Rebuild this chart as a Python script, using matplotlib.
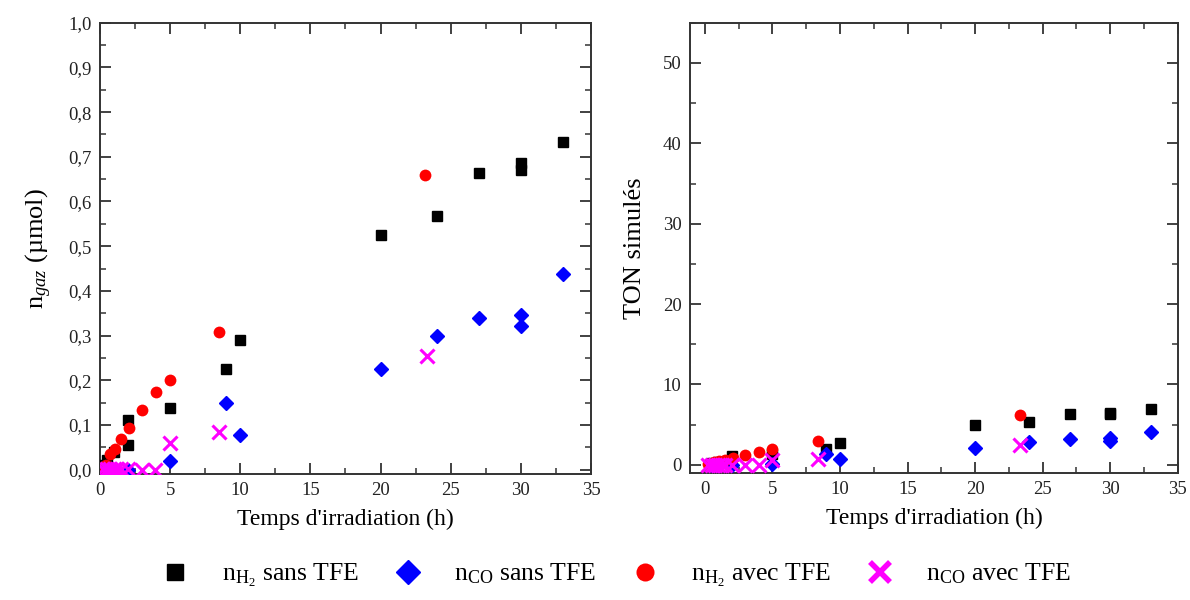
import numpy as np
import matplotlib
matplotlib.use('Agg')
import matplotlib.pyplot as plt
from matplotlib.ticker import MultipleLocator, FuncFormatter
from matplotlib.lines import Line2D

plt.rcParams['font.family'] = ['Liberation Serif', 'DejaVu Serif']
plt.rcParams['mathtext.fontset'] = 'custom'
plt.rcParams['mathtext.rm'] = 'Liberation Serif'
plt.rcParams['mathtext.it'] = 'Liberation Serif:italic'

# ─── Left panel: n_gaz (µmol) ────────────────────
h2_sans_t = [0.25, 0.5, 1.0, 2.0, 2.0, 5.0, 9.0, 10.0, 20.0, 24.0, 27.0, 30.0, 30.0, 33.0]
h2_sans_n = [0.010, 0.022, 0.039, 0.056, 0.110, 0.137, 0.225, 0.290, 0.526, 0.567, 0.663, 0.687, 0.671, 0.734]

co_sans_t = [0.5, 1.0, 2.0, 5.0, 9.0, 10.0, 20.0, 24.0, 27.0, 30.0, 30.0, 33.0]
co_sans_n = [0.0, 0.0, 0.0, 0.019, 0.149, 0.077, 0.224, 0.300, 0.339, 0.347, 0.321, 0.438]

h2_avec_t = [0.25, 0.45, 0.7, 1.05, 1.5, 2.05, 3.0, 4.0, 5.0, 8.5, 23.2]
h2_avec_n = [0.005, 0.011, 0.034, 0.046, 0.069, 0.094, 0.133, 0.174, 0.200, 0.307, 0.660]

co_avec_t = [0.25, 0.5, 0.75, 1.0, 1.25, 1.5, 2.0, 3.0, 3.9, 5.0, 8.5, 23.3]
co_avec_n = [0.002, 0.002, 0.002, 0.002, 0.002, 0.002, 0.002, 0.0, 0.0, 0.060, 0.083, 0.255]

# ─── Right panel: TON simulés ─────────────────────
ton_h2_sans_t = [0.5, 1.0, 2.0, 5.0, 9.0, 10.0, 20.0, 24.0, 27.0, 30.0, 30.0, 33.0]
ton_h2_sans   = [0.2, 0.4, 1.1, 1.3, 2.0, 2.7, 5.0, 5.3, 6.3, 6.5, 6.3, 7.0]

ton_co_sans_t = [0.5, 1.0, 2.0, 5.0, 9.0, 10.0, 20.0, 24.0, 27.0, 30.0, 30.0, 33.0]
ton_co_sans   = [0.0, 0.0, 0.0, 0.1, 1.4, 0.7, 2.1, 2.8, 3.2, 3.3, 3.0, 4.1]

ton_h2_avec_t = [0.25, 0.45, 0.7, 1.05, 1.5, 2.05, 3.0, 4.0, 5.0, 8.4, 23.3]
ton_h2_avec   = [0.1, 0.15, 0.3, 0.45, 0.65, 0.9, 1.25, 1.65, 1.9, 2.9, 6.25]

ton_co_avec_t = [0.25, 0.5, 0.75, 1.0, 1.25, 1.5, 2.0, 3.0, 4.0, 5.0, 8.4, 23.3]
ton_co_avec   = [0.0, 0.0, 0.0, 0.0, 0.0, 0.0, 0.0, 0.0, 0.0, 0.6, 0.75, 2.4]

LABELS = [r'n$_{\mathrm{H}_2}$ sans TFE', r'n$_{\mathrm{CO}}$ sans TFE',
          r'n$_{\mathrm{H}_2}$ avec TFE', r'n$_{\mathrm{CO}}$ avec TFE']

SPINE = '#333333'

def style(ax):
    for s in ax.spines.values():
        s.set_linewidth(1.4)
        s.set_color(SPINE)
    ax.tick_params(which='both', direction='in', top=True, right=True,
                   colors=SPINE, labelcolor='#222222', labelsize=13.5)
    ax.tick_params(which='major', length=8, width=1.3, pad=6)
    ax.tick_params(which='minor', length=4.5, width=1.1)
    ax.xaxis.set_major_locator(MultipleLocator(5))
    ax.xaxis.set_minor_locator(MultipleLocator(2.5))

def draw(ax, series):
    (t1, y1), (t2, y2), (t3, y3), (t4, y4) = series
    ax.plot(t1, y1, ls='none', marker='s', ms=7.5, color='black', zorder=3)
    ax.plot(t2, y2, ls='none', marker='D', ms=7.5, color='#0000ff', zorder=3)
    ax.plot(t3, y3, ls='none', marker='o', ms=8.5, color='#ff0000', mec='none', zorder=3)
    ax.plot(t4, y4, ls='none', marker='x', ms=10, mew=2.2, color='#ff00ff', zorder=4)

fig = plt.figure(figsize=(11.9, 6), dpi=100)
ax1 = fig.add_axes([0.084, 0.21, 0.4126, 0.752])
ax2 = fig.add_axes([0.5798, 0.212, 0.41, 0.75])

draw(ax1, [(h2_sans_t, h2_sans_n), (co_sans_t, co_sans_n),
           (h2_avec_t, h2_avec_n), (co_avec_t, co_avec_n)])
draw(ax2, [(ton_h2_sans_t, ton_h2_sans), (ton_co_sans_t, ton_co_sans),
           (ton_h2_avec_t, ton_h2_avec), (ton_co_avec_t, ton_co_avec)])

style(ax1)
ax1.set_xlim(0, 35)
ax1.set_ylim(-0.01, 1.0)
ax1.yaxis.set_major_locator(MultipleLocator(0.1))
ax1.yaxis.set_minor_locator(MultipleLocator(0.05))
ax1.yaxis.set_major_formatter(FuncFormatter(lambda v, p: f'{v:.1f}'.replace('.', ',')))
ax1.set_xlabel("Temps d'irradiation (h)", fontsize=17, labelpad=7)
ax1.set_ylabel(r'n$_{gaz}$ (µmol)', fontsize=19, labelpad=10)

style(ax2)
ax2.set_xlim(-1.1, 35)
ax2.set_ylim(-1.0, 55)
ax2.yaxis.set_major_locator(MultipleLocator(10))
ax2.yaxis.set_minor_locator(MultipleLocator(5))
ax2.set_xlabel("Temps d'irradiation (h)", fontsize=17, labelpad=7)
ax2.set_ylabel('TON simulés', fontsize=19, labelpad=12)

handles = [
    Line2D([], [], ls='none', marker='s', ms=11, color='black'),
    Line2D([], [], ls='none', marker='D', ms=12, color='#0000ff'),
    Line2D([], [], ls='none', marker='o', ms=13, color='#ff0000', mec='none'),
    Line2D([], [], ls='none', marker='x', ms=15, mew=4, color='#ff00ff'),
]
fig.legend(handles, LABELS, loc='lower center', bbox_to_anchor=(0.513, -0.02),
           ncol=4, frameon=False, fontsize=18.5, handletextpad=0.8,
           columnspacing=0.9)

plt.savefig('out.png', dpi=100)
plt.close()
